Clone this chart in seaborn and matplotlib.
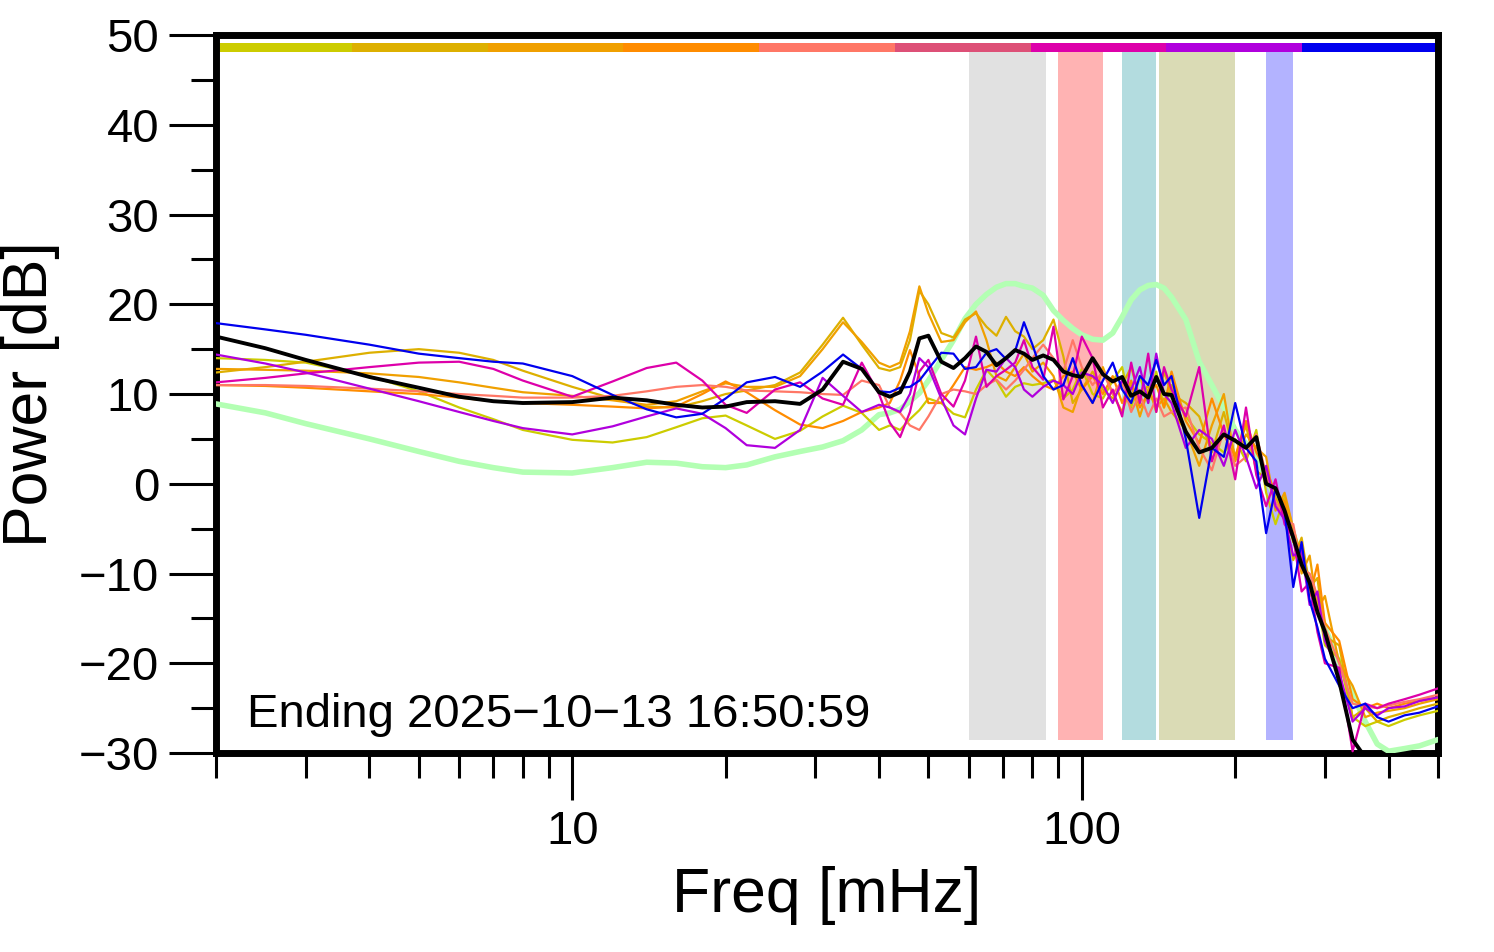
import numpy as np
import matplotlib
matplotlib.use("Agg")
import matplotlib.pyplot as plt
import seaborn as sns
from matplotlib.ticker import MultipleLocator, LogLocator, NullFormatter, FuncFormatter

# ---------------- data ----------------
freq_mhz = [2, 2.5, 3, 4, 5, 6, 7, 8, 10, 12, 14, 16, 18, 20, 22, 25, 28, 31, 34, 37, 40,
            42, 44, 46, 48, 50, 53, 56, 59, 62, 65, 68, 71, 74, 77, 80, 84, 88, 92, 96, 100,
            105, 110, 115, 120, 125, 130, 135, 140, 145, 150,
            160, 170, 180, 190, 200, 210, 220, 230, 240, 250, 260, 270, 280, 290, 300,
            320, 340, 360, 380, 400, 430, 460, 500]

power_yellow = [14.0, 13.8, 13.5, 12.0, 10.3, 8.5, 7.2, 6.0, 4.9, 4.6, 5.2, 6.3, 7.3, 7.6, 6.5, 5.0, 5.9, 7.5, 8.7, 7.9, 6.0,
                6.5, 6.0, 7.2, 8.2, 9.5, 9.0, 7.8, 7.4, 10.5, 12.7, 11.5, 9.7, 10.8, 11.2, 11.0, 11.2, 11.6, 9.5, 10.5, 12.8,
                10.0, 9.5, 11.5, 13.0, 8.5, 12.0, 9.0, 12.5, 8.5, 11.0,
                7.5, 5.5, 4.5, 3.5, 5.0, 2.5, 6.0, -1.0, -4.5, -1.5, -5.0, -8.0, -12.0, -13.0, -18.0,
                -19.5, -26.0, -27.0, -26.5, -27.0, -26.3, -25.8, -25.3]

power_gold = [12.4, 13.0, 13.6, 14.6, 15.0, 14.6, 13.8, 12.6, 10.8, 9.5, 8.6, 8.5, 9.2, 10.0, 10.4, 11.0, 12.4, 15.5, 18.5, 15.5, 12.9,
              12.6, 13.0, 16.0, 21.5, 20.0, 16.8, 16.3, 18.3, 19.0, 17.5, 16.5, 18.6, 17.0, 16.4, 15.0, 16.0, 18.3, 14.2, 9.0, 10.5,
              12.5, 10.5, 9.5, 11.0, 13.0, 9.5, 11.0, 8.0, 12.5, 10.0,
              9.0, 7.5, 3.5, 8.0, 3.0, 6.5, 1.5, 0.5, -1.5, -3.5, -8.5, -6.0, -11.5, -10.5, -17.0,
              -18.0, -26.0, -25.0, -26.5, -26.0, -25.5, -25.0, -24.5]

power_amber = [12.8, 12.7, 12.6, 12.3, 11.9, 11.3, 10.7, 10.2, 9.8, 9.3, 8.8, 9.2, 10.3, 11.2, 10.8, 10.8, 12.0, 15.0, 18.0, 15.8, 13.5,
               13.0, 13.5, 17.0, 22.0, 19.0, 15.8, 16.0, 18.0, 19.2, 16.0, 12.0, 11.5, 13.0, 14.5, 12.5, 13.5, 12.0, 8.5, 8.0, 11.0,
               9.0, 13.0, 10.0, 8.0, 11.0, 7.5, 10.5, 8.5, 9.5, 8.0,
               6.0, 2.0, 6.5, 10.0, 2.5, 5.5, 4.0, 3.0, -3.0, -1.0, -5.0, -10.0, -8.0, -14.0, -12.5,
               -20.0, -22.5, -26.0, -25.5, -25.3, -25.0, -24.5, -24.0]

power_orange = [11.0, 10.9, 10.7, 10.3, 10.0, 9.6, 9.2, 9.0, 8.8, 8.6, 8.4, 8.6, 10.0, 11.4, 10.2, 8.2, 6.6, 6.2, 7.0, 8.0, 8.5,
                9.0, 11.5, 14.9, 12.0, 9.0, 9.0, 11.0, 13.0, 12.7, 13.0, 13.5, 12.5, 12.0, 13.0, 12.0, 11.0, 10.5, 12.0, 12.5, 10.5,
                12.0, 10.0, 12.0, 9.0, 11.5, 8.5, 10.0, 11.0, 8.5, 12.5,
                7.0, 4.5, 9.5, 5.5, 3.0, 7.0, 3.5, 1.5, -1.0, -2.0, -6.5, -7.0, -12.5, -9.0, -15.5,
                -17.5, -24.0, -25.0, -24.5, -25.0, -24.5, -24.2, -23.8]

power_salmon = [11.0, 11.0, 10.9, 10.6, 10.3, 10.0, 9.8, 9.6, 9.6, 9.8, 10.3, 10.8, 11.0, 10.8, 10.4, 10.3, 10.2, 10.0, 9.9, 11.5, 11.0,
                8.5, 7.9, 6.5, 6.0, 7.5, 10.0, 10.5, 10.3, 10.0, 11.0, 11.6, 10.5, 11.5, 12.7, 14.0, 15.5, 14.0, 12.5, 16.0, 13.0,
                11.0, 12.5, 10.0, 11.5, 8.0, 10.0, 7.5, 9.5, 7.5, 8.0,
                8.5, 4.0, 1.5, 6.0, 2.0, 3.0, 5.5, 1.0, -2.0, -4.0, -4.5, -9.5, -10.0, -12.5, -16.0,
                -20.0, -24.5, -24.8, -25.0, -24.7, -24.3, -24.0, -23.5]

power_magenta = [11.3, 11.8, 12.3, 13.0, 13.5, 13.6, 12.8, 11.5, 9.7, 11.4, 12.9, 13.5, 11.5, 8.8, 7.9, 10.5, 11.3, 9.5, 8.8, 13.5, 10.0,
                 6.8, 5.2, 8.0, 12.5, 13.8, 10.0, 8.6, 11.5, 16.4, 10.8, 12.0, 12.7, 13.5, 16.0, 13.0, 11.6, 17.5, 9.4, 12.0, 16.4,
                 14.0, 8.5, 10.5, 7.5, 13.5, 9.0, 14.5, 8.0, 13.0, 10.5,
                 7.5, 13.0, 2.5, 6.5, 0.5, 8.5, 1.0, -2.5, 0.5, -4.5, -6.0, -12.0, -11.0, -16.5, -20.0,
                 -20.5, -29.8, -24.5, -25.0, -24.5, -24.0, -23.5, -22.8]

power_purple = [14.4, 13.4, 12.4, 10.6, 9.2, 8.0, 7.0, 6.2, 5.5, 6.4, 7.5, 8.4, 7.8, 6.2, 4.3, 4.0, 6.0, 11.8, 9.8, 8.0, 8.8,
                8.5, 8.0, 10.0, 14.0, 13.0, 9.5, 6.5, 5.5, 9.5, 12.7, 12.5, 14.0, 13.0, 10.5, 9.7, 10.8, 11.5, 11.0, 10.0, 12.4,
                12.0, 11.0, 9.0, 11.5, 10.5, 13.0, 9.0, 14.5, 10.0, 9.0,
                4.0, 6.0, 5.0, 2.0, 6.0, 3.0, -0.5, 2.0, -2.5, -4.0, -8.0, -7.5, -13.5, -12.0, -17.5,
                -21.0, -26.5, -25.0, -25.8, -25.0, -24.8, -24.2, -23.8]

power_blue = [17.9, 17.2, 16.6, 15.5, 14.5, 14.0, 13.6, 13.4, 12.0, 9.9, 8.3, 7.4, 7.8, 9.5, 11.3, 11.9, 10.8, 12.5, 14.4, 12.8, 10.3,
              10.2, 10.7, 10.8, 11.5, 12.8, 14.6, 14.5, 12.8, 13.0, 14.6, 15.0, 13.9, 14.8, 18.0, 15.5, 12.0, 10.5, 11.0, 14.0, 11.0,
              9.0, 11.5, 13.5, 10.5, 9.0, 12.0, 11.0, 13.8, 11.0, 12.0,
              5.0, -3.8, 4.0, 3.0, 9.0, 4.0, 2.5, -5.5, -0.5, -3.0, -11.5, -6.5, -13.0, -16.0, -19.5,
              -22.5, -25.0, -24.5, -26.0, -26.5, -25.8, -25.5, -24.8]

power_reference = [8.9, 7.9, 6.7, 5.0, 3.6, 2.5, 1.8, 1.3, 1.2, 1.8, 2.4, 2.3, 1.9, 1.8, 2.1, 3.0, 3.6, 4.1, 4.8, 6.0, 7.7,
                   7.9, 8.3, 9.2, 10.1, 11.5, 13.8, 16.0, 18.4, 20.0, 21.1, 21.9, 22.3, 22.3, 22.0, 21.8, 21.0, 19.3, 18.2, 17.3, 16.6,
                   16.1, 16.0, 16.8, 18.6, 20.5, 21.6, 22.1, 22.2, 21.8, 20.8,
                   18.3, 13.6, 11.0, 8.5, 6.0, 4.5, 3.0, 0.5, -1.5, -3.5, -6.0, -8.5, -11.0, -13.5, -16.0,
                   -20.0, -23.5, -26.5, -29.0, -29.8, -29.5, -29.2, -28.5]

power_mean = [16.4, 15.1, 13.8, 11.9, 10.7, 9.7, 9.2, 9.0, 9.1, 9.6, 9.3, 8.8, 8.5, 8.6, 9.1, 9.2, 8.9, 10.5, 13.6, 12.8, 10.2,
              9.7, 10.2, 12.5, 16.2, 16.5, 13.6, 12.9, 14.0, 15.3, 14.7, 13.2, 14.0, 14.9, 14.5, 13.8, 14.3, 13.8, 12.5, 12.1, 11.9,
              14.0, 12.2, 11.4, 11.9, 9.8, 10.3, 9.6, 11.9, 10.0, 9.9,
              5.8, 3.5, 4.0, 5.5, 4.8, 4.0, 5.2, 0.0, -0.5, -3.0, -6.0, -9.0, -11.0, -14.3, -16.5,
              -22.0, -28.5, -30.5, -33.0, -34.0, -35.0, -35.0, -35.0]

band_low_mhz = [60, 90, 120, 142, 230]
band_high_mhz = [85, 110, 140, 200, 260]
band_colors = ["#e1e1e1", "#ffb3b3", "#b3dcdf", "#dadbb5", "#b3b3ff"]

strip_colors = ["#cccc00", "#ddb000", "#f0a000", "#ff8c00", "#ff7766",
                "#dd5077", "#dd00aa", "#b000dd", "#0000ee"]

ending_text = "Ending 2025\u221210\u221213 16:50:59"

# ---------------- style ----------------
sns.set_theme(style="white")
plt.rcParams['font.family'] = ['Liberation Sans', 'DejaVu Sans']

fig, ax = plt.subplots(figsize=(14.94, 9.52), dpi=100)
fig.subplots_adjust(left=0.1446, right=0.9625, bottom=0.209, top=0.9632)

# bands
for lo, hi, col in zip(band_low_mhz, band_high_mhz, band_colors):
    ax.fill_between([lo, hi], -28.5, 48.1, color=col, lw=0, zorder=1)

# top colour strip (equal log segments)
edges = np.geomspace(2, 500, len(strip_colors) + 1)
for i, col in enumerate(strip_colors):
    ax.fill_between([edges[i], edges[i + 1]], 48.1, 49.1, color=col, lw=0, zorder=2)

# reference (light green)
sns.lineplot(x=freq_mhz, y=power_reference, ax=ax, color="#b3ffb3", lw=4.0,
             sort=False, estimator=None, zorder=3)

series = [(power_yellow, "#cccc00"), (power_gold, "#ddb000"), (power_amber, "#f0a000"),
          (power_orange, "#ff8c00"), (power_salmon, "#ff7766"), (power_magenta, "#dd00aa"),
          (power_purple, "#b000dd"), (power_blue, "#0000ee")]
for vals, col in series:
    sns.lineplot(x=freq_mhz, y=vals, ax=ax, color=col, lw=1.6,
                 sort=False, estimator=None, zorder=4)

sns.lineplot(x=freq_mhz, y=power_mean, ax=ax, color="black", lw=2.8,
             sort=False, estimator=None, zorder=5)

ax.set_xscale("log")
ax.set_xlim(2, 500)
ax.set_ylim(-30, 50)

ax.yaxis.set_major_locator(MultipleLocator(10))
ax.yaxis.set_minor_locator(MultipleLocator(5))
ax.xaxis.set_major_locator(LogLocator(base=10))
ax.xaxis.set_minor_locator(LogLocator(base=10, subs=np.arange(2, 10)))
ax.xaxis.set_major_formatter(FuncFormatter(lambda v, p: f"{v:g}"))
ax.xaxis.set_minor_formatter(NullFormatter())

ax.tick_params(which="major", direction="out", length=34, width=2.2, labelsize=34,
               pad=7, color="black", labelcolor="black", left=True, bottom=True)
ax.tick_params(which="minor", direction="out", length=18, width=2.2,
               color="black", left=True, bottom=True)

for sp in ax.spines.values():
    sp.set_linewidth(5)
    sp.set_color("black")

ax.set_xlabel("Freq [mHz]", fontsize=45, color="black")
ax.set_ylabel("Power [dB]", fontsize=45, color="black")
ax.xaxis.set_label_coords(0.5, -0.158)
ax.yaxis.set_label_coords(-0.128, 0.5)
ax.xaxis.label.set_va("top")

ax.text(0.025, 0.036, ending_text, transform=ax.transAxes, fontsize=34,
        ha="left", va="baseline", color="black", zorder=6)

ax.grid(False)
fig.savefig("out.png", dpi=100)
